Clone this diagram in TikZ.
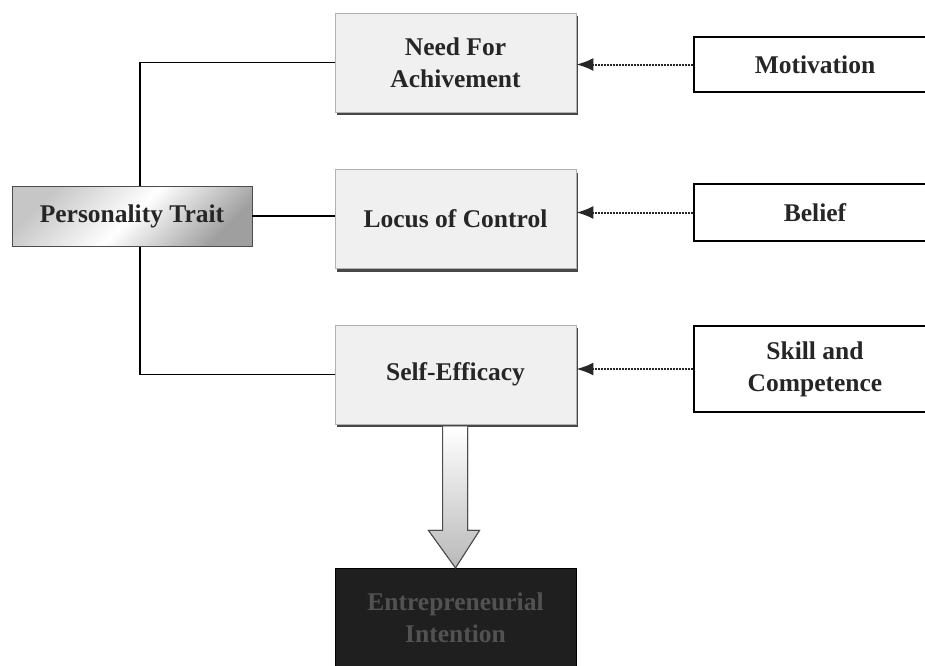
\documentclass[tikz,border=0pt]{standalone}
\usepackage{fontspec}
\setmainfont{Liberation Serif}
\usetikzlibrary{shadows,arrows.meta,calc,backgrounds}
\begin{document}
\begin{tikzpicture}[x=1pt,y=-1pt,
  boxfont/.style={font=\fontsize{25.5}{32}\selectfont\bfseries},
  midbox/.style={boxfont, draw=gray!60, line width=0.8pt, fill=gray!12,
    minimum width=241pt, minimum height=99pt, align=center, text=black!85,
    inner sep=0pt,
    drop shadow={shadow xshift=2pt, shadow yshift=-3pt, fill=black!80, opacity=0.9}},
  srcbox/.style={boxfont, draw=black, line width=2.8pt, fill=white,
    minimum width=242pt, align=center, text=black!85, inner sep=0pt},
  traitbox/.style={boxfont, draw=gray!60!black, line width=0.8pt,
    minimum width=240pt, minimum height=60pt, text=black!85, inner sep=0pt,
    top color=gray!45, bottom color=gray!75, middle color=white, shading angle=45},
  outbox/.style={boxfont, fill=black!88, draw=black, minimum width=241pt,
    minimum height=100pt, align=center, text=black!68, inner sep=0pt},
  link/.style={draw=black, line width=1.4pt},
  feed/.style={draw=black!85, line width=2pt, dash pattern=on 2pt off 1pt,
    -{Latex[length=17pt,width=13pt]}},
  bigarrow/.style={draw=gray!60!black, line width=1pt, top color=white, bottom color=gray!55}
]
\useasboundingbox (0,0) rectangle (925,665);
\clip (0,0) rectangle (925,665);

% left trait
\node[traitbox] (pt) at (132,216) {Personality Trait};

% middle boxes
\node[midbox] (na) at (455.5,62.5) {Need For\\Achivement};
\node[midbox] (lc) at (455.5,219) {Locus of Control};
\node[midbox] (se) at (455.5,374.5) {Self-Efficacy};

% outcome
\node[outbox] (ei) at (455.5,618) {Entrepreneurial\\Intention};

% right boxes
\node[srcbox, minimum height=55pt] (mo) at (815,64.5) {Motivation};
\node[srcbox, minimum height=57pt] (be) at (815,212.5) {Belief};
\node[srcbox, minimum height=86pt] (sk) at (815,369) {Skill and\\Competence};

% trait connectors
\coordinate (vx) at (140,0);
\begin{scope}[on background layer]
\draw[link] (na.west) -- (na.west -| vx) -- (se.west -| vx) -- (se.west);
\end{scope}
\draw[link] (pt.east) -- (pt.east -| lc.west);

% feed arrows
\draw[feed] (mo.west) -- (mo.west -| na.east);
\draw[feed] (be.west) -- (be.west -| lc.east);
\draw[feed] (sk.west) -- (sk.west -| se.east);

% block arrow
\fill[bigarrow]
  ($(se.south)+(-13,2)$) -- ($(se.south)+(-13,106)$) -- ($(se.south)+(-27,106)$)
  -- (ei.north) -- ($(se.south)+(24,106)$) -- ($(se.south)+(12,106)$)
  -- ($(se.south)+(12,2)$);
\draw[bigarrow, fill=none]
  ($(se.south)+(-13,3)$) -- ($(se.south)+(-13,106)$) -- ($(se.south)+(-27,106)$)
  -- (ei.north) -- ($(se.south)+(24,106)$) -- ($(se.south)+(12,106)$)
  -- ($(se.south)+(12,3)$);
\end{tikzpicture}
\end{document}
